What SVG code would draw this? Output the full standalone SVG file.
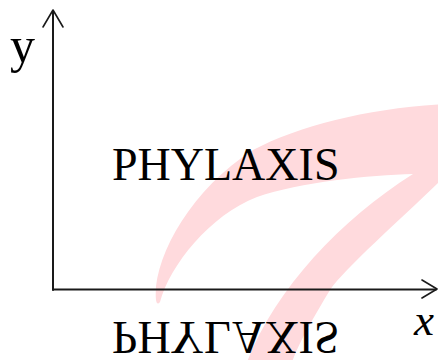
<svg xmlns="http://www.w3.org/2000/svg" width="438" height="360" viewBox="0 0 438 360">
<style>
.ax{fill:none;stroke:#1a1a1a;stroke-width:2;stroke-linecap:round;stroke-linejoin:round}
.hd{fill:none;stroke:#1a1a1a;stroke-width:1.6;stroke-linecap:round;stroke-linejoin:round}
.t{font-family:"Liberation Serif","Times New Roman",serif;fill:#000}
</style>
<rect width="438" height="360" fill="#fff"/>
<g id="logo">
<path fill="#ffdadd" d="M156,300 C152,260 190,190 253,150 C300,125 370,108 445,104 L445,176 L438,183 C400,220 345,268 330,290 C315,315 300,340 292,362 L247,362 C275,290 340,220 413,174 C370,175 300,182 257,197 C210,215 170,265 160,302 Q157,306 156,300 Z"/>
</g>
<g id="axes">
<path class="ax" d="M53,290 L53,11"/>
<path class="ax" d="M53,289.5 L436,289.5"/>
<path class="hd" d="M43,27 L53,10 L63,27"/>
<path class="hd" d="M422,280 L437,289 L422,298"/>
</g>
<g id="labels">
<text class="t" x="10" y="62" font-size="50">y</text>
<text class="t" x="414" y="335" font-size="45" font-style="italic">x</text>
<text class="t" x="112" y="180" font-size="46">PHYLAXIS</text>
<text class="t" x="112" y="180" font-size="46" transform="matrix(1,0,0,-1,0,502)">PHYLAXIS</text>
</g>
</svg>
